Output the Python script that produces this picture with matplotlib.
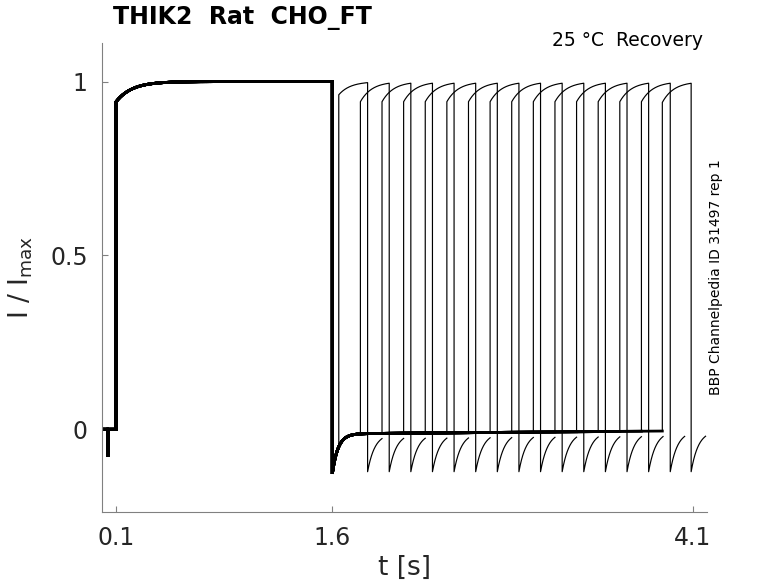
import numpy as np
import matplotlib
matplotlib.use("Agg")
import matplotlib.pyplot as plt

# ---- data ----
recovery_intervals = [0.045, 0.195, 0.345, 0.495, 0.645, 0.795, 0.945, 1.095,
                      1.245, 1.395, 1.545, 1.695, 1.845, 1.995, 2.145, 2.29]
test_start_levels = [0.962, 0.942, 0.942, 0.942, 0.942, 0.942, 0.942, 0.942,
                     0.942, 0.942, 0.942, 0.942, 0.942, 0.942, 0.942, 0.94]
x_ticks = [0.1, 1.6, 4.1]
x_tick_labels = ["0.1", "1.6", "4.1"]
y_ticks = [0, 0.5, 1]
y_tick_labels = ["0", "0.5", "1"]

# protocol / kinetics parameters
t_prepulse_artifact = 0.04
artifact_level = -0.075
t_on = 0.1
t_off = 1.6
step_level = 0.942
tau_act = 0.11
tail_min = -0.128
tau_tail = 0.04
base_start, base_end = -0.013, -0.005
test_dur = 0.2
tau_test = 0.08
test_tail_min = -0.122
tau_test_tail = 0.05
tail_dur = 0.1


def baseline(t):
    return base_start + (base_end - base_start) * (t - t_off) / 2.3


def activation(t, t0, start, tau):
    return 1 - (1 - start) * np.exp(-(t - t0) / tau)


fig = plt.figure(figsize=(7.78, 5.83), dpi=100)
ax = fig.add_axes([101.7 / 778, 1 - 511.7 / 583, (707 - 101.7) / 778, (511.7 - 43.3) / 583])

for dt, s0 in zip(recovery_intervals, test_start_levels):
    # first part (holding, main pulse, recovery interval)
    t_a = np.array([0, t_prepulse_artifact, t_prepulse_artifact, t_prepulse_artifact + 0.003,
                    t_prepulse_artifact + 0.003, t_on])
    y_a = np.array([0, 0, artifact_level, artifact_level, 0, 0])
    t_b = np.linspace(t_on, t_off, 400)
    y_b = activation(t_b, t_on, step_level, tau_act)
    ts = t_off + dt
    t_c = np.linspace(t_off, ts, 300)
    y_c = baseline(t_c) + (tail_min - baseline(t_c)) * np.exp(-(t_c - t_off) / tau_tail)
    t1 = np.concatenate([t_a, t_b, t_c])
    y1 = np.concatenate([y_a, y_b, y_c])
    ax.plot(t1, y1, color="black", lw=2.0, solid_joinstyle="miter")
    # test pulse and tail
    t_d = np.linspace(ts, ts + test_dur, 150)
    y_d = activation(t_d, ts, s0, tau_test)
    te = ts + test_dur
    t_e = np.linspace(te, te + tail_dur, 80)
    y_e = baseline(t_e) + (test_tail_min - baseline(t_e)) * np.exp(-(t_e - te) / tau_test_tail)
    t2 = np.concatenate([[ts], t_d, t_e])
    y2 = np.concatenate([[y_c[-1]], y_d, y_e])
    ax.plot(t2, y2, color="black", lw=0.85)

ax.set_xlim(0, 4.2)
ax.set_ylim(-0.237, 1.11)
ax.set_xticks(x_ticks)
ax.set_xticklabels(x_tick_labels)
ax.set_yticks(y_ticks)
ax.set_yticklabels(y_tick_labels)
for sp in ["top", "right"]:
    ax.spines[sp].set_visible(False)
for sp in ["left", "bottom"]:
    ax.spines[sp].set_color("#808080")
    ax.spines[sp].set_linewidth(0.8)
ax.tick_params(direction="in", length=4, width=0.8, color="#808080",
               labelsize=17, labelcolor="#262626", pad=10)
ax.set_xlabel("t [s]", fontsize=19, color="#262626", labelpad=4)
ax.set_ylabel(r"I / I$_{\mathrm{max}}$", fontsize=19, color="#262626", labelpad=11)

fig.text(113 / 778, 1 - 18 / 583, "THIK2  Rat  CHO_FT", fontsize=17, fontweight="bold",
         ha="left", va="center")
fig.text(703 / 778, 1 - 41 / 583, "25 °C  Recovery", fontsize=13.5, ha="right", va="center")
fig.text(716 / 778, 1 - 277 / 583, "BBP Channelpedia ID 31497 rep 1", fontsize=10,
         rotation=90, ha="center", va="center")

fig.savefig("out.png", dpi=100)
